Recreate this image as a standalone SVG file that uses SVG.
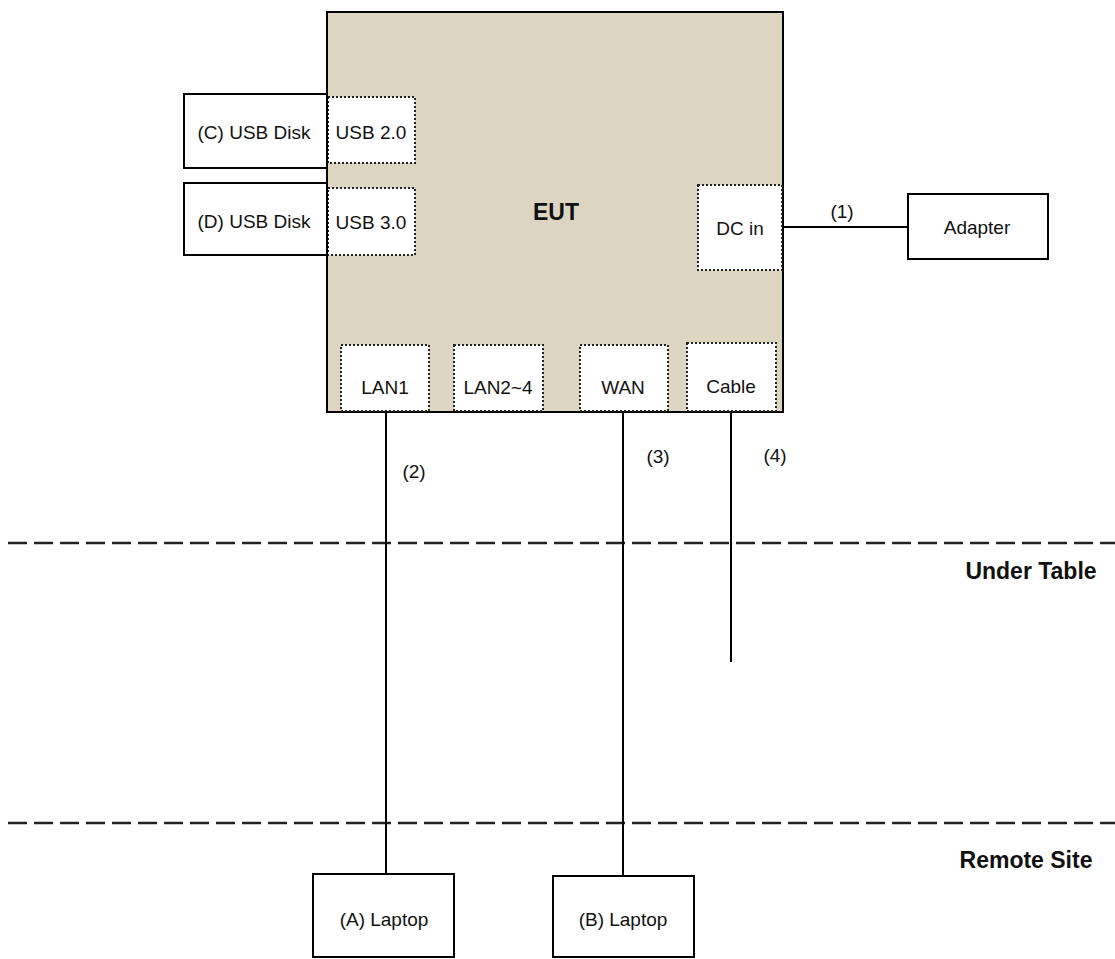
<svg xmlns="http://www.w3.org/2000/svg" width="1115" height="959" viewBox="0 0 1115 959">
<style>
.box{fill:#fff;stroke:#000;stroke-width:2}
.port{fill:#fff;stroke:#222;stroke-width:2;stroke-dasharray:2 2}
.t{font-family:"Liberation Sans",Arial,sans-serif;font-size:19px;fill:#111;text-anchor:middle}
.b{font-family:"Liberation Sans",Arial,sans-serif;font-size:23px;font-weight:bold;fill:#111;text-anchor:middle}
.ln{stroke:#000;stroke-width:2;fill:none}
.dash{stroke:#222;stroke-width:2.5;stroke-dasharray:19 7;fill:none}
</style>
<rect width="1115" height="959" fill="#fff"/>
<g id="zones">
<line class="dash" x1="8" y1="543" x2="1115" y2="543"/>
<line class="dash" x1="8" y1="823" x2="1115" y2="823"/>
<text class="b" x="1031" y="579">Under Table</text>
<text class="b" x="1026" y="868">Remote Site</text>
</g>
<g id="connectors">
<line class="ln" x1="783" y1="227" x2="908" y2="227"/>
<line class="ln" x1="386" y1="412" x2="386" y2="874"/>
<line class="ln" x1="623" y1="412" x2="623" y2="876"/>
<line class="ln" x1="731" y1="412" x2="731" y2="662"/>
<text class="t" x="842" y="218">(1)</text>
<text class="t" x="414" y="478">(2)</text>
<text class="t" x="658" y="463">(3)</text>
<text class="t" x="775" y="462">(4)</text>
</g>
<g id="eut">
<rect x="327" y="12" width="456" height="400" fill="#dbd5c2" stroke="#000" stroke-width="2"/>
<text class="b" x="556" y="220">EUT</text>
</g>
<g id="port-usb2"><rect class="port" x="328" y="97" width="87" height="66"/><text class="t" x="371" y="139">USB 2.0</text></g>
<g id="port-usb3"><rect class="port" x="328" y="188" width="87" height="67"/><text class="t" x="371" y="229">USB 3.0</text></g>
<g id="port-dcin"><rect class="port" x="698" y="185" width="84" height="85"/><text class="t" x="740" y="235">DC in</text></g>
<g id="port-lan1"><rect class="port" x="341" y="345" width="88" height="66"/><text class="t" x="385" y="394">LAN1</text></g>
<g id="port-lan24"><rect class="port" x="454" y="345" width="89" height="66"/><text class="t" x="498" y="394">LAN2~4</text></g>
<g id="port-wan"><rect class="port" x="580" y="345" width="88" height="66"/><text class="t" x="623" y="394">WAN</text></g>
<g id="port-cable"><rect class="port" x="687" y="343" width="89" height="68"/><text class="t" x="731" y="393">Cable</text></g>
<g id="usb-disk-c"><rect class="box" x="184" y="94" width="143" height="74"/><text class="t" x="254" y="139">(C) USB Disk</text></g>
<g id="usb-disk-d"><rect class="box" x="184" y="183" width="143" height="72"/><text class="t" x="254" y="228">(D) USB Disk</text></g>
<g id="adapter"><rect class="box" x="908" y="194" width="140" height="65"/><text class="t" x="977" y="234">Adapter</text></g>
<g id="laptop-a"><rect class="box" x="313" y="874" width="141" height="83"/><text class="t" x="384" y="926">(A) Laptop</text></g>
<g id="laptop-b"><rect class="box" x="553" y="876" width="141" height="81"/><text class="t" x="623" y="926">(B) Laptop</text></g>
</svg>
